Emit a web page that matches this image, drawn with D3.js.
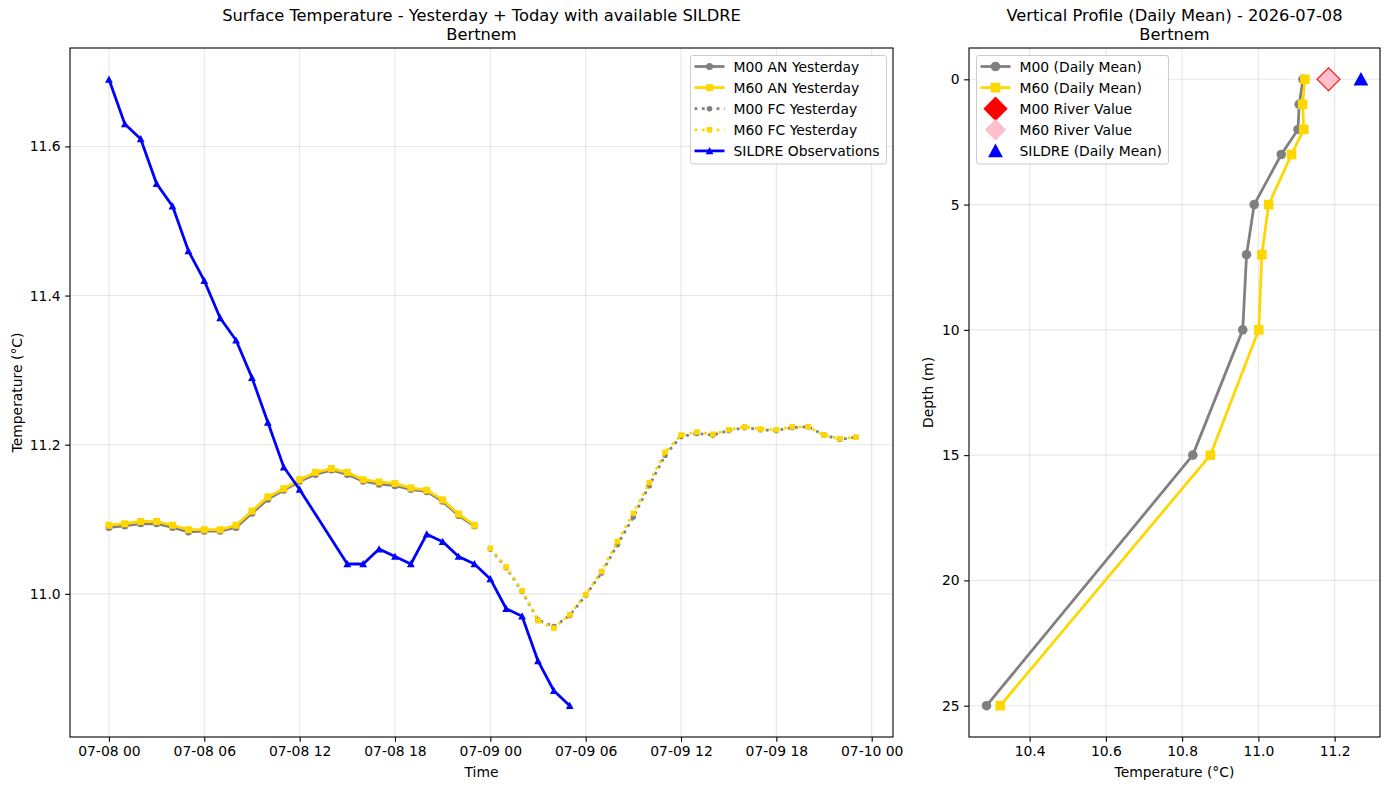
<!DOCTYPE html>
<html>
<head>
<meta charset="utf-8">
<script src="https://cdn.jsdelivr.net/npm/d3@7"></script>
<style>
  body { margin: 0; background: #fff; }
  text { font-family: 'DejaVu Sans', sans-serif; fill: #000; }
</style>
</head>
<body>
<div id="chart"></div>
<script>
// ---- data ----
const startTime = Date.UTC(2026, 6, 8, 0);
const anHours = [0,1,2,3,4,5,6,7,8,9,10,11,12,13,14,15,16,17,18,19,20,21,22,23];
const m00An = [11.089,11.091,11.094,11.094,11.089,11.083,11.084,11.084,11.089,11.108,11.127,11.139,11.151,11.160,11.166,11.160,11.151,11.147,11.145,11.140,11.137,11.124,11.105,11.091];
const m60An = [11.092,11.094,11.097,11.097,11.092,11.086,11.086,11.086,11.092,11.111,11.130,11.141,11.153,11.163,11.168,11.163,11.153,11.150,11.148,11.142,11.139,11.126,11.107,11.092];
const fcHours = [24,25,26,27,28,29,30,31,32,33,34,35,36,37,38,39,40,41,42,43,44,45,46,47];
const m00Fc = [11.060,11.035,11.003,10.965,10.956,10.971,10.998,11.028,11.066,11.103,11.145,11.186,11.211,11.215,11.213,11.219,11.223,11.220,11.219,11.223,11.224,11.213,11.207,11.210];
const m60Fc = [11.061,11.036,11.004,10.964,10.954,10.972,10.999,11.030,11.070,11.108,11.149,11.190,11.213,11.217,11.214,11.220,11.224,11.221,11.220,11.224,11.224,11.213,11.208,11.210];
const obsHours = [0,1,2,3,4,5,6,7,8,9,10,11,12,15,16,17,18,19,20,21,22,23,24,25,26,27,28,29];
const obsTemps = [11.69,11.63,11.61,11.55,11.52,11.46,11.42,11.37,11.34,11.29,11.23,11.17,11.14,11.04,11.04,11.06,11.05,11.04,11.08,11.07,11.05,11.04,11.02,10.98,10.97,10.91,10.87,10.85];

const depths = [0,1,2,3,5,7,10,15,25];
const m00Profile = [11.117,11.107,11.104,11.060,10.989,10.969,10.959,10.828,10.287];
const m60Profile = [11.122,11.116,11.119,11.087,11.027,11.009,11.001,10.874,10.323];
const m00River = 11.184;
const m60River = 11.184;
const sildreMean = 11.269;

const tempTicks = [11.0, 11.2, 11.4, 11.6];
const depthTicks = [0, 5, 10, 15, 20, 25];
const profTicks = [10.4, 10.6, 10.8, 11.0, 11.2];

const GREY = '#808080', GOLD = '#FFD700', BLUE = '#0000FF';
const FS = 13.9;
const LW = 2.78;            // 2pt at 100 dpi
const DOT = '2.78,4.59';    // matplotlib ':' at lw 2
const TICK = 4.86;

const width = 1389, height = 790;
const svg = d3.select('#chart').append('svg')
  .attr('width', width).attr('height', height);

const toDate = h => new Date(startTime + h * 3600000);

// ---- markers ----
function marker(g, type, x, y, s, fill, stroke, sw) {
  let el;
  if (type === 'o') {
    el = g.append('circle').attr('cx', x).attr('cy', y).attr('r', s);
  } else if (type === 's') {
    el = g.append('rect').attr('x', x - s).attr('y', y - s).attr('width', 2 * s).attr('height', 2 * s);
  } else if (type === '^') {
    el = g.append('path').attr('d', `M${x},${y - s}L${x + s},${y + s * 0.85}L${x - s},${y + s * 0.85}Z`);
  } else if (type === 'D') {
    el = g.append('path').attr('d', `M${x},${y - s}L${x + s},${y}L${x},${y + s}L${x - s},${y}Z`);
  }
  el.attr('fill', fill).attr('stroke', stroke || 'none').attr('stroke-width', sw || 0);
  return el;
}

function drawSeries(g, pts, x, y, opt) {
  const line = d3.line().x(d => x(d[0])).y(d => y(d[1]));
  const p = g.append('path').datum(pts).attr('d', line)
    .attr('fill', 'none').attr('stroke', opt.color).attr('stroke-width', LW)
    .attr('stroke-linejoin', 'round');
  if (opt.dash) p.attr('stroke-dasharray', opt.dash).attr('stroke-linecap', 'butt');
  pts.forEach(d => marker(g, opt.marker, x(d[0]), y(d[1]), opt.ms, opt.color));
}

function legend(g, x0, y0, w, h, items) {
  g.append('rect').attr('x', x0).attr('y', y0).attr('width', w).attr('height', h)
    .attr('rx', 2.5).attr('fill', 'white').attr('fill-opacity', 0.8)
    .attr('stroke', '#cccccc').attr('stroke-width', 1);
  items.forEach((it, i) => {
    const cy = y0 + 11 + i * 21.1;
    const hx0 = x0 + 4, hx1 = x0 + 34, hm = (hx0 + hx1) / 2;
    if (it.line) {
      const l = g.append('line').attr('x1', hx0).attr('x2', hx1).attr('y1', cy).attr('y2', cy)
        .attr('stroke', it.color).attr('stroke-width', LW);
      if (it.dash) l.attr('stroke-dasharray', it.dash);
    }
    it.draw(g, hm, cy);
    g.append('text').attr('x', x0 + 43).attr('y', cy).attr('dy', '0.36em')
      .attr('font-size', FS).text(it.label);
  });
}

function frame(g, x0, x1, y0, y1) {
  g.append('rect').attr('x', x0).attr('y', y0).attr('width', x1 - x0).attr('height', y1 - y0)
    .attr('fill', 'none').attr('stroke', '#000').attr('stroke-width', 1.1);
}

function styleAxis(sel) {
  sel.select('.domain').remove();
  sel.selectAll('.tick line').attr('stroke', '#000').attr('stroke-width', 1.1);
  sel.selectAll('.tick text').attr('font-size', FS).attr('font-family', 'DejaVu Sans').attr('fill', '#000');
}

function title(g, cx, l1, l2) {
  g.append('text').attr('x', cx).attr('y', 21.3).attr('text-anchor', 'middle').attr('font-size', 16.3).text(l1);
  g.append('text').attr('x', cx).attr('y', 40.4).attr('text-anchor', 'middle').attr('font-size', 16.3).text(l2);
}

function grid(g, vx, vy, xs, ys, box) {
  g.append('g').selectAll('line').data(vx).join('line')
    .attr('x1', d => xs(d)).attr('x2', d => xs(d)).attr('y1', box.y0).attr('y2', box.y1)
    .attr('stroke', '#b0b0b0').attr('stroke-opacity', 0.3).attr('stroke-width', 1.1);
  g.append('g').selectAll('line').data(vy).join('line')
    .attr('x1', box.x0).attr('x2', box.x1).attr('y1', d => ys(d)).attr('y2', d => ys(d))
    .attr('stroke', '#b0b0b0').attr('stroke-opacity', 0.3).attr('stroke-width', 1.1);
}

// ================= LEFT PANEL =================
const L = { x0: 70, x1: 893, y0: 48, y1: 737 };
const xT = d3.scaleUtc().domain([toDate(-2.45), toDate(49.34)]).range([L.x0, L.x1]);
const yT = d3.scaleLinear().domain([10.808, 11.732]).range([L.y1, L.y0]);
const timeTicks = d3.range(0, 49, 6).map(toDate);

const gl = svg.append('g');
grid(gl, timeTicks, tempTicks, xT, yT, L);

const plotL = gl.append('g');
drawSeries(plotL, anHours.map((h, i) => [toDate(h), m00An[i]]), xT, yT, { color: GREY, marker: 'o', ms: 3.5 });
drawSeries(plotL, anHours.map((h, i) => [toDate(h), m60An[i]]), xT, yT, { color: GOLD, marker: 's', ms: 3.5 });
drawSeries(plotL, fcHours.map((h, i) => [toDate(h), m00Fc[i]]), xT, yT, { color: GREY, marker: 'o', ms: 2.8, dash: DOT });
drawSeries(plotL, fcHours.map((h, i) => [toDate(h), m60Fc[i]]), xT, yT, { color: GOLD, marker: 's', ms: 2.8, dash: DOT });
const obsPts = obsHours.map((h, i) => [toDate(h), obsTemps[i]]);
drawSeries(plotL, obsPts, xT, yT, { color: BLUE, marker: '^', ms: 3.9 });

frame(gl, L.x0, L.x1, L.y0, L.y1);

gl.append('g').attr('transform', `translate(0,${L.y1})`)
  .call(d3.axisBottom(xT).tickValues(timeTicks).tickFormat(d3.utcFormat('%m-%d %H')).tickSize(TICK).tickPadding(4.5))
  .call(styleAxis);
gl.append('g').attr('transform', `translate(${L.x0},0)`)
  .call(d3.axisLeft(yT).tickValues(tempTicks).tickFormat(d3.format('.1f')).tickSize(TICK).tickPadding(4.5))
  .call(styleAxis);

const lcx = (L.x0 + L.x1) / 2;
title(gl, lcx, 'Surface Temperature - Yesterday + Today with available SILDRE', 'Bertnem');
gl.append('text').attr('x', lcx).attr('y', 777).attr('text-anchor', 'middle').attr('font-size', FS).text('Time');
gl.append('text').attr('transform', `translate(22,${(L.y0 + L.y1) / 2}) rotate(-90)`)
  .attr('text-anchor', 'middle').attr('font-size', FS).text('Temperature (°C)');

legend(gl.append('g'), 690.5, 55.5, 196, 108.5, [
  { label: 'M00 AN Yesterday', line: true, color: GREY, draw: (g, x, y) => marker(g, 'o', x, y, 3.5, GREY) },
  { label: 'M60 AN Yesterday', line: true, color: GOLD, draw: (g, x, y) => marker(g, 's', x, y, 3.5, GOLD) },
  { label: 'M00 FC Yesterday', line: true, color: GREY, dash: DOT, draw: (g, x, y) => marker(g, 'o', x, y, 2.8, GREY) },
  { label: 'M60 FC Yesterday', line: true, color: GOLD, dash: DOT, draw: (g, x, y) => marker(g, 's', x, y, 2.8, GOLD) },
  { label: 'SILDRE Observations', line: true, color: BLUE, draw: (g, x, y) => marker(g, '^', x, y, 3.9, BLUE) }
]);

// ================= RIGHT PANEL =================
const R = { x0: 969, x1: 1380, y0: 48, y1: 737 };
const xP = d3.scaleLinear().domain([10.241, 11.319]).range([R.x0, R.x1]);
const yD = d3.scaleLinear().domain([-1.25, 26.25]).range([R.y0, R.y1]);

const gr = svg.append('g');
grid(gr, profTicks, depthTicks, xP, yD, R);

const plotR = gr.append('g');
drawSeries(plotR, depths.map((d, i) => [m00Profile[i], d]), xP, yD, { color: GREY, marker: 'o', ms: 4.8 });
drawSeries(plotR, depths.map((d, i) => [m60Profile[i], d]), xP, yD, { color: GOLD, marker: 's', ms: 4.8 });
marker(plotR, 'D', xP(m00River), yD(0), 12.2, 'red');
marker(plotR, 'D', xP(m60River), yD(0), 10.7, 'pink');
marker(plotR, '^', xP(sildreMean), yD(0), 7.4, BLUE);

frame(gr, R.x0, R.x1, R.y0, R.y1);

gr.append('g').attr('transform', `translate(0,${R.y1})`)
  .call(d3.axisBottom(xP).tickValues(profTicks).tickFormat(d3.format('.1f')).tickSize(TICK).tickPadding(4.5))
  .call(styleAxis);
gr.append('g').attr('transform', `translate(${R.x0},0)`)
  .call(d3.axisLeft(yD).tickValues(depthTicks).tickFormat(d3.format('d')).tickSize(TICK).tickPadding(4.5))
  .call(styleAxis);

const rcx = (R.x0 + R.x1) / 2;
title(gr, rcx, 'Vertical Profile (Daily Mean) - 2026-07-08', 'Bertnem');
gr.append('text').attr('x', rcx).attr('y', 777).attr('text-anchor', 'middle').attr('font-size', FS).text('Temperature (°C)');
gr.append('text').attr('transform', `translate(933,${(R.y0 + R.y1) / 2}) rotate(-90)`)
  .attr('text-anchor', 'middle').attr('font-size', FS).text('Depth (m)');

legend(gr.append('g'), 976.5, 55.5, 192, 108.5, [
  { label: 'M00 (Daily Mean)', line: true, color: GREY, draw: (g, x, y) => marker(g, 'o', x, y, 4.8, GREY) },
  { label: 'M60 (Daily Mean)', line: true, color: GOLD, draw: (g, x, y) => marker(g, 's', x, y, 4.8, GOLD) },
  { label: 'M00 River Value', draw: (g, x, y) => marker(g, 'D', x, y, 12.2, 'red') },
  { label: 'M60 River Value', draw: (g, x, y) => marker(g, 'D', x, y, 10.7, 'pink') },
  { label: 'SILDRE (Daily Mean)', draw: (g, x, y) => marker(g, '^', x, y, 7.4, BLUE) }
]);
</script>
</body>
</html>
